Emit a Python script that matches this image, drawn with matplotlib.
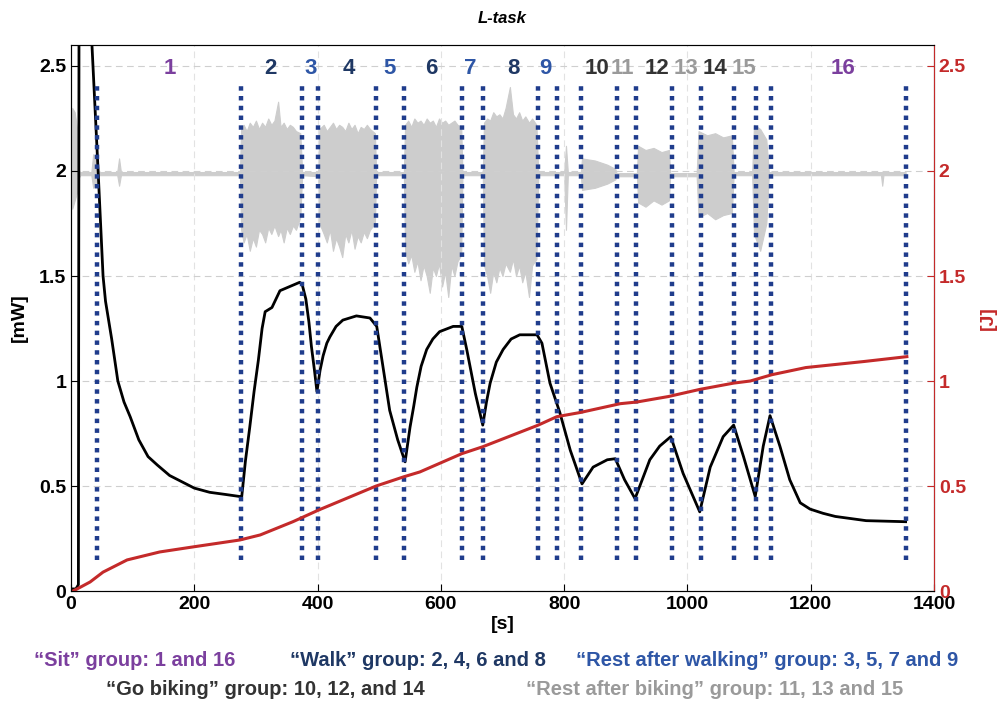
import numpy as np
import matplotlib
matplotlib.use("Agg")
import matplotlib.pyplot as plt

plt.rcParams['font.family'] = ['Liberation Sans', 'DejaVu Sans']
plt.rcParams['font.weight'] = 'bold'

# power trace [mW] (time s, value)
power_t = [0, 8, 12, 13, 28, 34, 44, 48, 52, 56, 66, 76, 86, 96, 110, 125, 140, 160, 180, 200, 225, 250, 274,
           277, 283, 290, 297, 304, 310, 315, 326, 339, 355, 371, 375, 381, 386, 390, 395, 399,
           404, 409, 415, 420, 430, 441, 463, 485, 496, 506, 517, 530, 542,
           550, 556, 561, 568, 577, 587, 598, 620, 634, 642, 656, 668,
           674, 680, 690, 701, 714, 728, 756, 764, 777, 793, 810, 829,
           847, 870, 883, 898, 915, 939, 955, 973, 993, 1020,
           1037, 1058, 1075, 1091, 1110, 1123, 1134, 1150, 1166, 1183,
           1199, 1220, 1240, 1290, 1354]
power_mw = [0.01, 0.01, 0.03, 2.7, 3.0, 2.6, 2.0, 1.75, 1.5, 1.38, 1.2, 1.0, 0.9, 0.83, 0.72, 0.64, 0.60, 0.55, 0.52, 0.49, 0.47, 0.46, 0.45,
            0.45, 0.62, 0.78, 0.95, 1.10, 1.25, 1.33, 1.35, 1.43, 1.45, 1.47, 1.46, 1.39, 1.28, 1.165, 1.05, 0.95,
            1.05, 1.12, 1.18, 1.21, 1.26, 1.29, 1.31, 1.30, 1.26, 1.07, 0.86, 0.72, 0.615,
            0.78, 0.88, 0.97, 1.07, 1.15, 1.20, 1.235, 1.26, 1.26, 1.15, 0.94, 0.79,
            0.90, 0.99, 1.09, 1.15, 1.20, 1.22, 1.22, 1.18, 0.99, 0.85, 0.67, 0.51,
            0.59, 0.625, 0.63, 0.53, 0.44, 0.625, 0.69, 0.735, 0.56, 0.377,
            0.59, 0.735, 0.79, 0.64, 0.45, 0.69, 0.835, 0.69, 0.53, 0.42,
            0.39, 0.37, 0.355, 0.335, 0.33]

# harvested energy [J]
energy_t = [3, 10, 31, 52, 91, 144, 198, 274, 307, 360, 402, 495, 540, 566, 634, 668,
            758, 788, 826, 891, 918, 969, 1020, 1075, 1102, 1137, 1192, 1287, 1356]
energy_j = [0, 0.01, 0.043, 0.09, 0.148, 0.186, 0.21, 0.243, 0.267, 0.33, 0.386, 0.50, 0.544,
            0.567, 0.654, 0.687, 0.79, 0.83, 0.85, 0.892, 0.90, 0.926, 0.96, 0.99, 1.0,
            1.03, 1.064, 1.093, 1.116]

# acceleration signal envelope (grey): time, upper, lower
acc_t = [0, 2, 6, 10, 13, 15, 33, 36, 42, 45, 75, 78, 81, 274,
         276, 280, 285, 290, 295, 300, 305, 310, 315, 320, 325, 330, 336, 340, 345, 350, 355, 360, 365, 372,
         375, 401,
         403, 410, 415, 420, 425, 430, 435, 440, 445, 450, 455, 460, 465, 470, 475, 480, 485, 493,
         495, 540,
         542, 547, 552, 557, 562, 567, 572, 577, 582, 587, 592, 597, 602, 607, 612, 617, 622, 627, 633,
         635, 668,
         670, 675, 680, 685, 690, 695, 700, 705, 712, 717, 722, 727, 732, 737, 743, 748, 755,
         758, 800, 803, 806, 827, 829, 850, 870, 883, 885,
         918, 920, 932, 945, 958, 970, 972, 1015, 1018, 1032, 1045, 1058, 1072, 1075,
         1105, 1108, 1118, 1128, 1132, 1314, 1316, 1318, 1354]
acc_hi = [2.05, 2.30, 2.28, 2.20, 2.0, 1.995, 1.995, 2.08, 2.06, 1.995, 1.995, 2.06, 1.995, 1.995,
          2.20, 2.22, 2.19, 2.23, 2.21, 2.24, 2.20, 2.23, 2.21, 2.25, 2.22, 2.24, 2.33, 2.21, 2.23, 2.20, 2.22, 2.21, 2.19, 2.18,
          1.995, 1.995,
          2.20, 2.22, 2.19, 2.21, 2.23, 2.20, 2.22, 2.21, 2.19, 2.23, 2.20, 2.22, 2.18, 2.21, 2.20, 2.22, 2.20, 2.18,
          1.995, 1.995,
          2.22, 2.24, 2.21, 2.25, 2.23, 2.24, 2.22, 2.25, 2.23, 2.24, 2.21, 2.25, 2.23, 2.24, 2.22, 2.23, 2.24, 2.22, 2.21,
          1.995, 1.995,
          2.23, 2.25, 2.24, 2.28, 2.26, 2.27, 2.25, 2.30, 2.40, 2.27, 2.25, 2.28, 2.24, 2.26, 2.23, 2.25, 2.22,
          1.995, 1.995, 2.12, 1.995, 1.995, 2.06, 2.05, 2.03, 2.01, 1.99,
          1.99, 2.12, 2.10, 2.11, 2.09, 2.10, 1.99, 1.99, 2.19, 2.17, 2.18, 2.16, 2.17, 1.995,
          1.995, 2.22, 2.20, 2.15, 1.995, 1.995, 1.995, 1.995, 1.995]
acc_lo = [1.95, 1.82, 1.86, 1.90, 1.97, 1.98, 1.98, 1.92, 1.94, 1.98, 1.98, 1.93, 1.98, 1.98,
          1.72, 1.66, 1.70, 1.62, 1.68, 1.64, 1.72, 1.70, 1.66, 1.73, 1.70, 1.74, 1.69, 1.72, 1.66, 1.73, 1.70, 1.74, 1.72, 1.78,
          1.98, 1.975,
          1.75, 1.70, 1.66, 1.72, 1.62, 1.68, 1.64, 1.59, 1.70, 1.66, 1.72, 1.63, 1.69, 1.66, 1.71, 1.68, 1.72, 1.75,
          1.98, 1.98,
          1.62, 1.56, 1.60, 1.52, 1.57, 1.48, 1.55, 1.50, 1.42, 1.54, 1.50, 1.56, 1.45, 1.52, 1.40, 1.55, 1.50, 1.57, 1.60,
          1.98, 1.98,
          1.55, 1.50, 1.42, 1.52, 1.47, 1.54, 1.50, 1.56, 1.52, 1.58, 1.50, 1.55, 1.47, 1.52, 1.40, 1.55, 1.58,
          1.98, 1.98, 1.72, 1.98, 1.98, 1.91, 1.92, 1.94, 1.96, 1.975,
          1.975, 1.85, 1.83, 1.86, 1.84, 1.86, 1.975, 1.975, 1.78, 1.80, 1.77, 1.79, 1.80, 1.98,
          1.98, 1.70, 1.62, 1.75, 1.98, 1.98, 1.93, 1.98, 1.98]

boundaries = [43, 275, 375, 401, 494, 540, 634, 668, 758, 788, 827, 885, 916,
              975, 1022, 1075, 1112, 1136, 1354]

seg_labels = [str(i) for i in range(1, 17)]
seg_x = [160, 324, 389, 451, 516, 584, 647, 717, 769, 853, 894, 951, 998, 1045, 1092, 1252]
purple, navy, blue, dgrey, lgrey = '#7b3f9e', '#1f3864', '#2e56a6', '#333333', '#9a9a9a'
seg_colors = [purple, navy, blue, navy, blue, navy, blue, navy, blue,
              dgrey, lgrey, dgrey, lgrey, dgrey, lgrey, purple]

red = '#c42a2a'

fig = plt.figure(figsize=(10.07, 7.03), dpi=100)
ax = fig.add_axes([0.0705, 0.1593, 0.857, 0.7767])

ax.fill_between(acc_t, acc_lo, acc_hi, color='#cdcdcd', lw=0.8, edgecolor='#cdcdcd', zorder=1)
ax.plot(power_t, power_mw, color='black', lw=2.0, zorder=2)
ax.vlines(boundaries, 0.15, 2.42, colors='#1f3c8c', linestyles=(0, (1, 1.2)), lw=3.2, zorder=3)

for lab, x, c in zip(seg_labels, seg_x, seg_colors):
    ax.text(x, 2.49, lab, color=c, fontsize=16, fontweight='bold', ha='center', va='center', zorder=4)

ax.set_xlim(0, 1400)
ax.set_ylim(0, 2.6)
ax.set_xticks(range(0, 1401, 200))
ax.set_yticks([0, 0.5, 1, 1.5, 2, 2.5])
ax.set_yticklabels(['0', '0.5', '1', '1.5', '2', '2.5'])
ax.grid(True, axis='y', ls=(0, (6, 4)), color='#cfcfcf', lw=0.8)
ax.grid(True, axis='x', ls=(0, (6, 4)), color='#e2e2e2', lw=0.8)
ax.tick_params(direction='in', labelsize=14, length=5)
for s in ['top', 'bottom', 'left']:
    ax.spines[s].set_color('#555555')
ax.set_ylabel('[mW]', fontsize=14, fontweight='bold', labelpad=8)
ax.set_xlabel('[s]', fontsize=14, fontweight='bold', labelpad=2)
ax.set_title('L-task', fontsize=12, fontweight='bold', style='italic', pad=16)

ax2 = ax.twinx()
ax2.plot(energy_t, energy_j, color=red, lw=2.2)
ax2.set_ylim(0, 2.6)
ax2.set_yticks([0, 0.5, 1, 1.5, 2, 2.5])
ax2.set_yticklabels(['0', '0.5', '1', '1.5', '2', '2.5'])
ax2.tick_params(direction='in', labelsize=14, length=5, colors=red)
ax2.spines['right'].set_color(red)
ax2.set_ylabel('[J]', fontsize=14, fontweight='bold', color=red, labelpad=10)

fs = 14.5
fig.text(0.134, 0.061, '\u201cSit\u201d group: 1 and 16', color=purple, fontsize=fs, ha='center', va='center')
fig.text(0.415, 0.061, '\u201cWalk\u201d group: 2, 4, 6 and 8', color=navy, fontsize=fs, ha='center', va='center')
fig.text(0.762, 0.061, '\u201cRest after walking\u201d group: 3, 5, 7 and 9', color=blue, fontsize=fs, ha='center', va='center')
fig.text(0.264, 0.019, '\u201cGo biking\u201d group: 10, 12, and 14', color=dgrey, fontsize=fs, ha='center', va='center')
fig.text(0.71, 0.019, '\u201cRest after biking\u201d group: 11, 13 and 15', color=lgrey, fontsize=fs, ha='center', va='center')

fig.savefig('out.png', dpi=100)
